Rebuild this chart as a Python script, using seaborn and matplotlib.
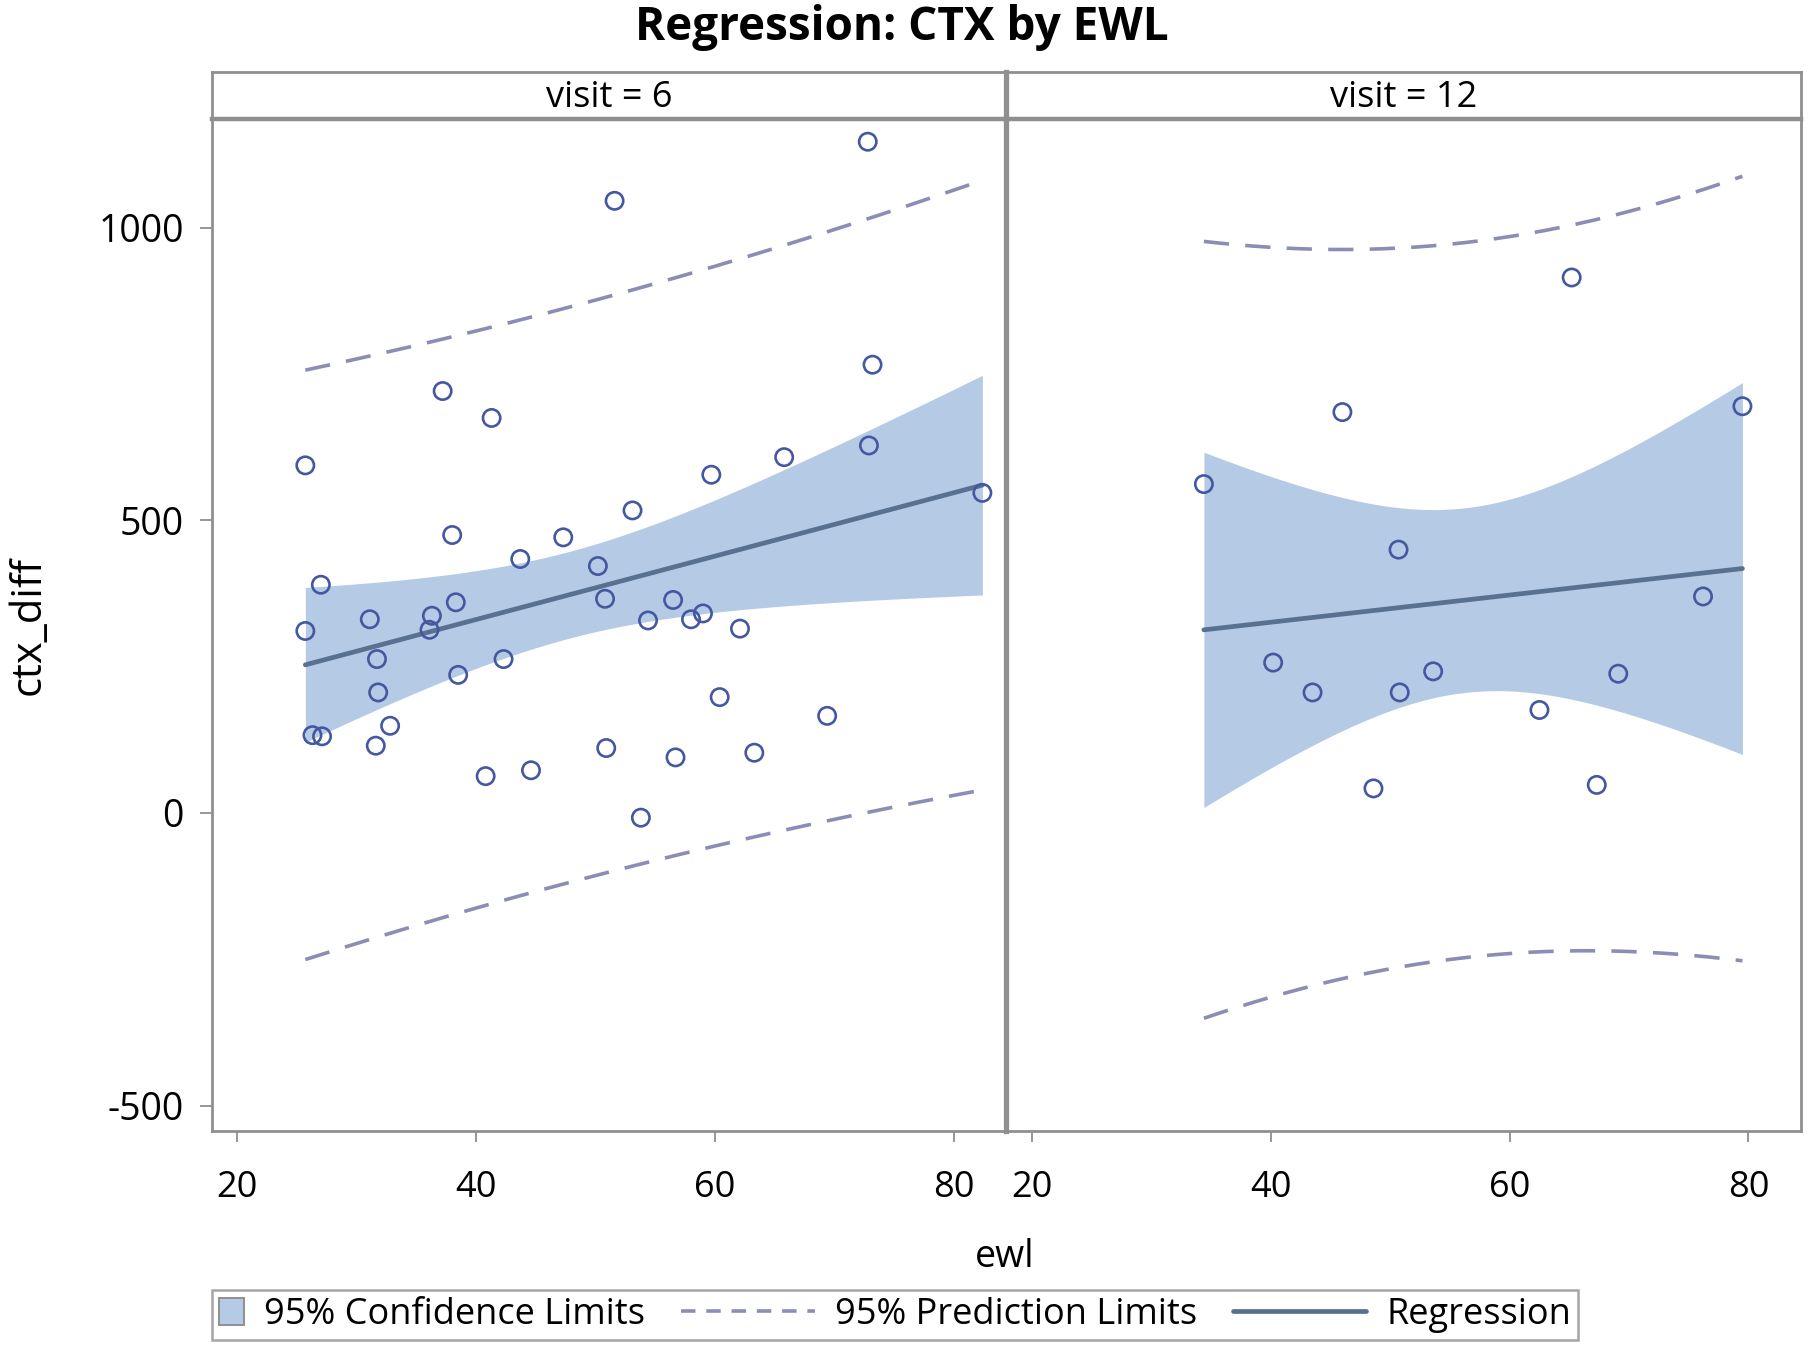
import numpy as np
import pandas as pd
import seaborn as sns
import matplotlib.pyplot as plt
from matplotlib.lines import Line2D
from matplotlib.patches import Rectangle
from matplotlib.legend_handler import HandlerBase

# data
ewl_v6 = [25.7, 25.7, 27.0, 26.3, 27.1, 31.1, 31.7, 31.8, 31.6, 32.8, 36.1, 36.3,
          37.2, 38.0, 38.3, 38.5, 40.8, 41.3, 42.3, 43.7, 44.6, 47.3, 50.2, 50.8,
          50.9, 51.6, 53.1, 53.8, 54.4, 56.5, 56.7, 58.0, 59.0, 59.7, 60.4, 62.1,
          63.3, 65.8, 69.4, 72.8, 72.9, 73.2, 82.4]
ctx_v6 = [594, 311, 390, 133, 131, 331, 263, 206, 115, 149, 313, 337,
          721, 475, 360, 236, 63, 675, 263, 434, 73, 471, 422, 366,
          111, 1046, 517, -8, 329, 364, 95, 331, 341, 578, 198, 315,
          103, 608, 166, 1147, 628, 766, 547]
ewl_v12 = [34.4, 40.2, 43.5, 46.0, 48.6, 50.7, 50.8, 53.6, 62.5, 65.2, 67.3, 69.1,
           76.2, 79.5]
ctx_v12 = [562, 257, 206, 685, 42, 450, 206, 242, 176, 915, 48, 238, 370, 695]

visits = [6, 12]
# two-sided 95% t quantiles for n-2 degrees of freedom (41 and 12)
t_crit = {6: 2.0195, 12: 2.1788}

df = pd.concat([
    pd.DataFrame({"ewl": ewl_v6, "ctx_diff": ctx_v6, "visit": 6}),
    pd.DataFrame({"ewl": ewl_v12, "ctx_diff": ctx_v12, "visit": 12}),
])

FILL = "#b5cae5"
PT = "#4458a2"
REG = "#58718f"
PRED = "#8b8db5"
GREY = "#8f8f8f"

sns.set_theme(style="white")
plt.rcParams["font.family"] = ["Open Sans", "DejaVu Sans"]
plt.rcParams["axes.unicode_minus"] = False
plt.rcParams["text.color"] = "black"
plt.rcParams["xtick.labelcolor"] = "black"
plt.rcParams["ytick.labelcolor"] = "black"

g = sns.FacetGrid(df, col="visit", col_order=visits, sharex=True, sharey=True)


def reg_bands(data, color=None, label=None):
    ax = plt.gca()
    v = data["visit"].iloc[0]
    x = data["ewl"].to_numpy(float)
    y = data["ctx_diff"].to_numpy(float)
    n = len(x)
    b, a = np.polyfit(x, y, 1)
    s = np.sqrt(np.sum((y - (a + b * x)) ** 2) / (n - 2))
    sxx = np.sum((x - x.mean()) ** 2)
    xs = np.linspace(x.min(), x.max(), 200)
    fit = a + b * xs
    se_m = s * np.sqrt(1 / n + (xs - x.mean()) ** 2 / sxx)
    se_p = s * np.sqrt(1 + 1 / n + (xs - x.mean()) ** 2 / sxx)
    t = t_crit[v]
    ax.fill_between(xs, fit - t * se_m, fit + t * se_m, color=FILL, lw=0, zorder=1)
    ax.plot(xs, fit + t * se_p, color=PRED, lw=2.6, ls=(0, (7, 4.5)), zorder=2)
    ax.plot(xs, fit - t * se_p, color=PRED, lw=2.6, ls=(0, (7, 4.5)), zorder=2)
    ax.plot(xs, fit, color=REG, lw=3.4, zorder=3)


g.map_dataframe(reg_bands)
g.map_dataframe(sns.scatterplot, x="ewl", y="ctx_diff", fc="none", ec=PT,
                linewidth=1.9, s=155, zorder=4)
g.set_titles("")
g.set_axis_labels("", "")

fig = g.figure
fig.set_size_inches(18.1, 13.51)
fig.subplots_adjust(left=0.1169, right=0.995, top=0.912, bottom=0.163, wspace=0)

axes = g.axes.flat
for i, ax in enumerate(axes):
    ax.patch.set_visible(False)
    ax.set_xlim(17.85, 84.4)
    ax.set_ylim(-543, 1186)
    ax.set_xticks([20, 40, 60, 80])
    ax.set_yticks([-500, 0, 500, 1000])
    for sp in ax.spines.values():
        sp.set_visible(True)
        sp.set_color(GREY)
        sp.set_linewidth(2.0)
    ax.spines["top"].set_linewidth(3.2)
    ax.tick_params(axis="x", direction="out", length=8, width=1.3, color=GREY,
                   labelsize=26, pad=20, bottom=True)
    if i == 0:
        ax.spines["right"].set_linewidth(3.8)
        ax.tick_params(axis="y", direction="out", length=9, width=1.3, color=GREY,
                       labelsize=27, pad=11, left=True)
    else:
        ax.spines["left"].set_visible(False)
        ax.tick_params(axis="y", left=False, labelleft=False)

    # header strip with the facet label
    pos = ax.get_position()
    hax = fig.add_axes([pos.x0, pos.y1, pos.width, 0.947 - pos.y1])
    hax.patch.set_visible(False)
    hax.set_xticks([])
    hax.set_yticks([])
    for sp in hax.spines.values():
        sp.set_color(GREY)
        sp.set_linewidth(2.0)
    hax.spines["bottom"].set_visible(False)
    if i == 0:
        hax.spines["right"].set_linewidth(3.8)
    else:
        hax.spines["left"].set_visible(False)
    hax.text(0.5, 0.45, f"visit = {visits[i]}", ha="center", va="center",
             fontsize=26, transform=hax.transAxes)

fig.suptitle("Regression: CTX by EWL", x=0.498, y=0.997, fontsize=33,
             fontweight="bold")
fig.text(0.016, 0.537, "ctx_diff", rotation=90, ha="center", va="center", fontsize=30)
fig.text(0.555, 0.0696, "ewl", ha="center", va="center", fontsize=27)


class WideLine(HandlerBase):
    def __init__(self, extra):
        super().__init__()
        self.extra = extra

    def create_artists(self, legend, orig_handle, xdescent, ydescent, width,
                       height, fontsize, trans):
        y0 = height / 2 - ydescent
        line = Line2D([-xdescent - self.extra * fontsize, width - xdescent], [y0, y0])
        self.update_prop(line, orig_handle, legend)
        line.set_transform(trans)
        return [line]


h_ci = Rectangle((0, 0), 1, 1, fc=FILL, ec=GREY, lw=1.4)
h_pi = Line2D([], [], color=PRED, lw=2.6, ls=(0, (4, 3)))
h_reg = Line2D([], [], color=REG, lw=3.4)
fig.legend([h_ci, h_pi, h_reg],
           ["95% Confidence Limits", "95% Prediction Limits", "Regression"],
           handler_map={h_pi: WideLine(3.0), h_reg: WideLine(3.0)},
           loc="lower left", bbox_to_anchor=(0.1169, 0.008), ncol=3,
           fontsize=26, frameon=True, fancybox=False, edgecolor=GREY,
           handlelength=0.7, handleheight=0.8, handletextpad=0.55,
           columnspacing=4.0, borderpad=0.2, borderaxespad=0)
fig.legends[0].get_frame().set_linewidth(1.8)

fig.savefig("out.png", dpi=100, facecolor="white")
